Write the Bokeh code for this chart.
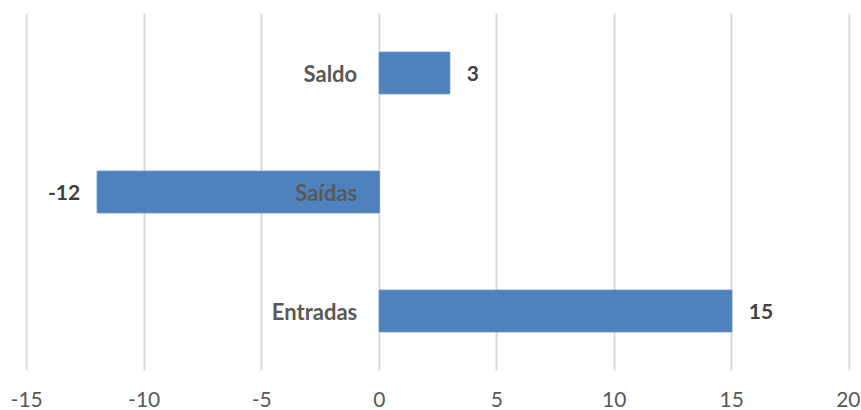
from bokeh.plotting import figure
from bokeh.models import ColumnDataSource, FactorRange, Range1d, FixedTicker
from bokeh.core.properties import value
from bokeh.embed import file_html
from bokeh.resources import INLINE

categories = ["Entradas", "Saídas", "Saldo"]
values = [15, -12, 3]
x_ticks = [-15, -10, -5, 0, 5, 10, 15, 20]
x_tick_labels = ["-15", "-10", "-5", "0", "5", "10", "15", "20"]

labels = [str(v) for v in values]
aligns = ["left" if v >= 0 else "right" for v in values]
offsets = [17 if v >= 0 else -17 for v in values]

src = ColumnDataSource(dict(cat=categories, val=values, zero=[0] * len(values),
                            lab=labels, align=aligns, off=offsets))

p = figure(width=860, height=409, output_backend="svg", toolbar_location=None,
           y_range=FactorRange(*categories), x_range=Range1d(-15.05, 20.05),
           min_border_left=25, min_border_right=10, min_border_top=13, min_border_bottom=37)

p.hbar(y="cat", left="zero", right="val", height=0.35, source=src,
       fill_color="#4F81BD", line_color="#4F81BD")

p.text(x="zero", y="cat", text="cat", source=src, x_offset=-22,
       text_align="right", text_baseline="middle",
       text_font=value("Lato"), text_font_style="bold", text_font_size="22px",
       text_color="#595959")

p.text(x="val", y="cat", text="lab", source=src, x_offset="off",
       text_align="align", text_baseline="middle",
       text_font=value("Lato"), text_font_style="bold", text_font_size="21px",
       text_color="#404040")

p.yaxis.visible = False
p.ygrid.grid_line_color = None
p.xgrid.grid_line_color = "#D9D9D9"
p.xgrid.grid_line_width = 2
p.xaxis.ticker = FixedTicker(ticks=x_ticks)
p.xaxis.major_label_overrides = dict(zip(x_ticks, x_tick_labels))
p.xaxis.axis_line_color = None
p.xaxis.major_tick_line_color = None
p.xaxis.minor_tick_line_color = None
p.xaxis.major_label_standoff = 15
p.xaxis.major_label_text_font = "Lato"
p.xaxis.major_label_text_font_size = "21px"
p.xaxis.major_label_text_color = "#595959"
p.outline_line_color = None
p.background_fill_color = "white"
p.border_fill_color = "white"

open("out.html", "w").write(file_html(p, INLINE))
